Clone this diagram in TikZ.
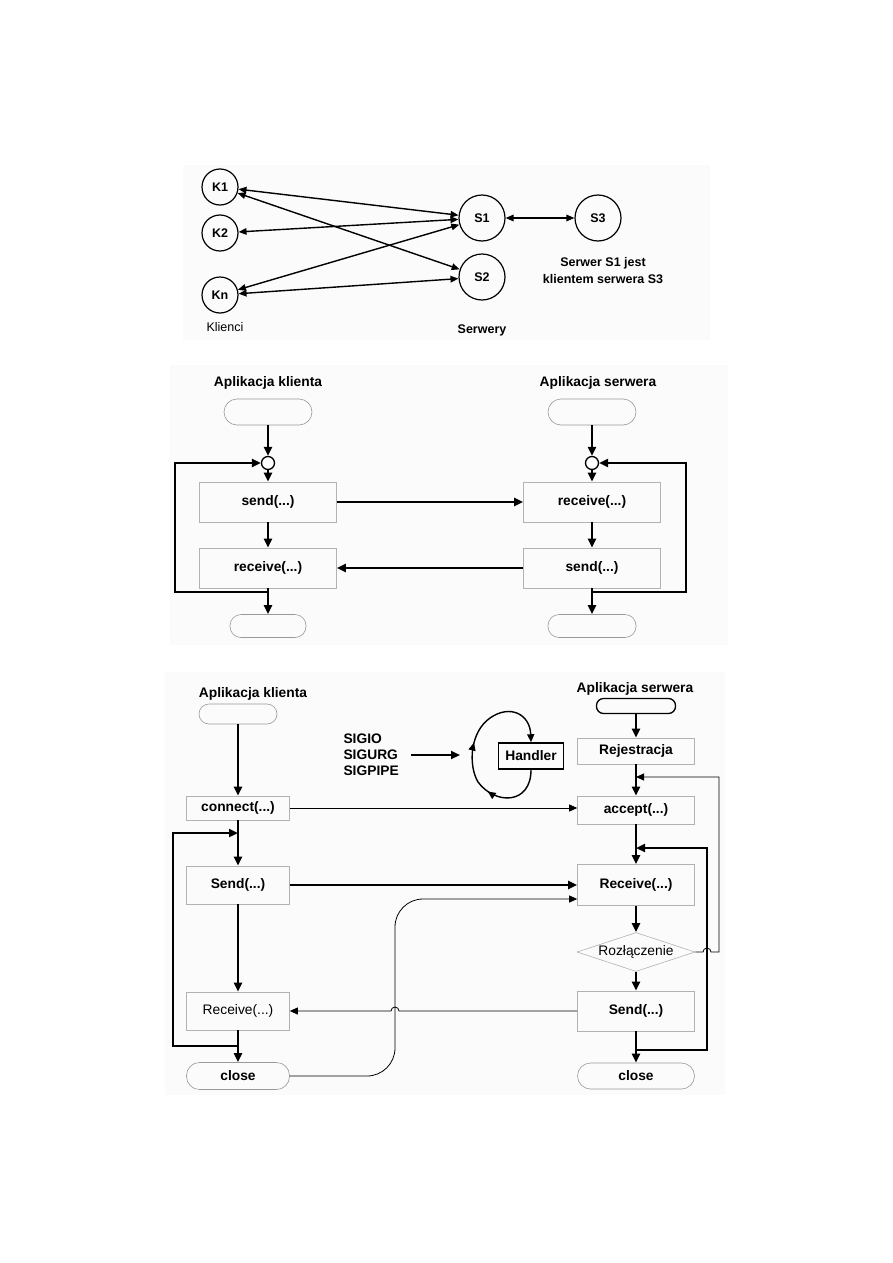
\documentclass[tikz,border=0pt]{standalone}
\usepackage{fontspec}
\setmainfont{Liberation Sans}
\usetikzlibrary{arrows.meta,shapes.geometric,decorations.markings}

\begin{document}
\begin{tikzpicture}[x=1pt,y=-1pt,
  txt/.style={font=\bfseries\fontsize{13.8}{16}\selectfont},
  plain/.style={font=\fontsize{13.8}{16}\selectfont},
  host/.style={draw,circle,line width=1.2pt,minimum size=36pt,inner sep=0pt,font=\bfseries\fontsize{12.5}{15}\selectfont},
  server/.style={host,minimum size=46pt},
  link/.style={{Triangle[length=8pt,width=6.5pt]}-{Triangle[length=8pt,width=6.5pt]},line width=1.4pt},
  term/.style={draw=black!40,line width=0.6pt,rectangle,rounded corners=10pt,inner sep=0pt,txt},
  proc/.style={draw=black!30,line width=0.6pt,rectangle,inner sep=0pt,minimum width=137pt,minimum height=40pt,txt},
  joint/.style={draw,circle,line width=1.3pt,fill=white,minimum size=13pt,inner sep=0pt},
  flow/.style={-{Triangle[length=9pt,width=8pt]},line width=2.2pt},
  wire/.style={-{Triangle[length=8pt,width=7pt]},line width=0.8pt},
  handler/.style={draw,line width=1.5pt,minimum width=65pt,minimum height=26pt,inner sep=2pt,txt}]
\useasboundingbox (0,0) rectangle (893,1263);
\fill[black!1.5] (183,165) rectangle (710,340);
\fill[black!1.5] (170,365) rectangle (728,645);
\fill[black!1.5] (165,672) rectangle (725,1095);

\node[host] (k1) at (220,187) {K1};
\node[host] (k2) at (220,233) {K2};
\node[host] (kn) at (220,295) {Kn};
\node[server] (s1) at (482,218) {S1};
\node[server] (s2) at (482,277) {S2};
\node[server] (s3) at (598,218) {S3};
\node[font=\fontsize{12.5}{15}\selectfont] at (225,327) {Klienci};
\node[font=\bfseries\fontsize{12.5}{15}\selectfont] at (482,330) {Serwery};
\node[font=\bfseries\fontsize{12.5}{17}\selectfont,align=center] at (603,271) {Serwer S1 jest\\klientem serwera S3};
\draw[link] (k1) -- (s1); \draw[link] (k1) -- (s2); \draw[link] (k2) -- (s1);
\draw[link] (kn) -- (s1); \draw[link] (kn) -- (s2); \draw[link] (s1) -- (s3);

\node[txt] at (268,383) {Aplikacja klienta};
\node[txt] at (598,383) {Aplikacja serwera};
\node[term,minimum width=88pt,minimum height=26pt,rounded corners=13pt] (cstart) at (268,412) {};
\node[joint] (cjoin) at (268,463) {};
\node[proc] (csend) at (268,502) {send(...)};
\node[proc] (crecv) at (268,568) {receive(...)};
\node[term,minimum width=76pt,minimum height=23pt,rounded corners=11pt] (cend) at (268,626) {};
\node[term,minimum width=88pt,minimum height=26pt,rounded corners=13pt] (sstart) at (592,412) {};
\node[joint] (sjoin) at (592,463) {};
\node[proc] (srecv) at (592,502) {receive(...)};
\node[proc] (ssend) at (592,568) {send(...)};
\node[term,minimum width=88pt,minimum height=23pt,rounded corners=11pt] (send) at (592,626) {};
\coordinate (cback) at (268,592);
\coordinate (sback) at (592,592);
\draw[flow] (cstart) -- (cjoin); \draw[flow] (cjoin) -- (csend); \draw[flow] (csend) -- (crecv); \draw[flow] (crecv) -- (cend);
\draw[flow] (sstart) -- (sjoin); \draw[flow] (sjoin) -- (srecv); \draw[flow] (srecv) -- (ssend); \draw[flow] (ssend) -- (send);
\draw[flow] (cback) -| (175,463) -- (cjoin);
\draw[flow] (sback) -| (686,463) -- (sjoin);
\draw[flow] (csend) -- (srecv);
\draw[flow] (ssend) -- (crecv);

\node[txt] at (253,694) {Aplikacja klienta};
\node[term,minimum width=78pt,minimum height=20pt] (bstart) at (238,714) {};
\node[proc,minimum width=103pt,minimum height=24pt] (ccon) at (238,808) {connect(...)};
\node[proc,minimum width=103pt,minimum height=38pt] (csnd) at (238,885) {Send(...)};
\node[proc,minimum width=103pt,minimum height=38pt,plain] (crcv) at (238,1011) {Receive(...)};
\node[term,minimum width=103pt,minimum height=27pt,rounded corners=13pt] (ccls) at (238,1076) {close};
\node[txt] at (635,689) {Aplikacja serwera};
\node[term,draw=black,line width=1.3pt,minimum width=79pt,minimum height=15pt,rounded corners=7pt] (sbeg) at (636,706) {};
\node[proc,minimum width=117pt,minimum height=26pt] (sreg) at (636,751) {Rejestracja};
\node[proc,minimum width=117pt,minimum height=28pt] (sacc) at (636,810) {accept(...)};
\node[proc,minimum width=117pt,minimum height=41pt] (srcv) at (636,885) {Receive(...)};
\node[draw=black!30,line width=0.6pt,diamond,aspect=3,minimum width=118pt,minimum height=39pt,inner sep=0pt,plain] (sdis) at (636,952) {Rozłączenie};
\node[proc,minimum width=117pt,minimum height=40pt] (ssnd) at (636,1011) {Send(...)};
\node[term,minimum width=117pt,minimum height=26pt,rounded corners=13pt] (scls) at (636,1076) {close};
\node[txt,align=left,anchor=west] (sig) at (340,755) {SIGIO\\SIGURG\\SIGPIPE};
\node[handler] (hnd) at (531,756) {Handler};
\coordinate (sigin) at (460,755);
\coordinate (cloop) at (238,833);
\coordinate (cout) at (238,1046);
\coordinate (sloop) at (636,848);
\coordinate (sout) at (636,1050);
\coordinate (sacin) at (636,777);
\coordinate (cjump) at (395,899);
\draw[flow] (bstart) -- (ccon); \draw[flow] (ccon) -- (csnd); \draw[flow] (csnd) -- (crcv); \draw[flow] (crcv) -- (ccls);
\draw[flow] (sbeg) -- (sreg); \draw[flow] (sreg) -- (sacc); \draw[flow] (sacc) -- (srcv);
\draw[flow] (srcv) -- (sdis); \draw[flow] (sdis) -- (ssnd); \draw[flow] (ssnd) -- (scls);
\draw[flow] (cout) -| (173,833) -- (cloop);
\draw[flow] (sout) -| (707,848) -- (sloop);
\draw[wire] (sdis.east) -- (703,952) arc[start angle=180,end angle=0,radius=4pt] -- (719,952) |- (sacin);
\draw[flow,line width=2pt] ([xshift=9pt]sig.east) -- (sigin);
\draw[line width=1.4pt,-{Triangle[length=8pt,width=7pt]},postaction={decorate},
  decoration={markings,mark=at position 0.3 with {\arrow{Triangle[length=8pt,width=7pt]}},mark=at position 0.56 with {\arrow{Triangle[length=8pt,width=7pt]}}}]
  (hnd.south) .. controls (531,805) and (495,805) .. (478,782) .. controls (468,765) and (470,732) .. (490,718) .. controls (510,704) and (530,714) .. (hnd.north);
\draw[wire] (ccon.east) -- (ccon.east -| sacc.west);
\draw[flow] (csnd.east) -- (csnd.east -| srcv.west);
\draw[wire,rounded corners=28pt] (ccls.east) -| (cjump) -- (srcv.west |- cjump);
\draw[wire] (ssnd.west) -- (399,1011) arc[start angle=0,end angle=180,radius=4pt] -- (crcv.east);
\end{tikzpicture}
\end{document}
